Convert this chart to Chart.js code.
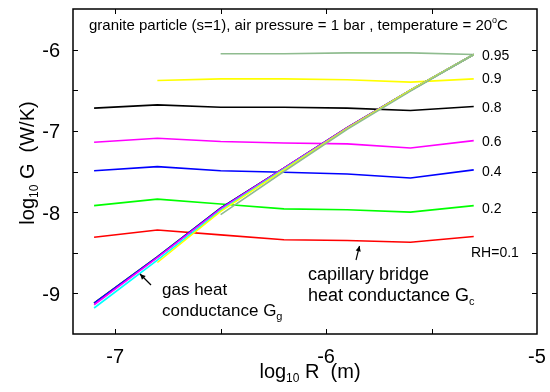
<!DOCTYPE html>
<html>
<head>
<meta charset="utf-8">
<script src="https://cdn.jsdelivr.net/npm/chart.js@4.4.0/dist/chart.umd.min.js"></script>
<style>
  html, body { margin: 0; padding: 0; background: #fff; }
  #wrap { width: 550px; height: 392px; }
</style>
</head>
<body>
<div id="wrap"><canvas id="chart" width="550" height="392"></canvas></div>
<script>
// log10 R (m) sample positions
const logR = [-7.1, -6.8, -6.5, -6.2, -5.9, -5.6, -5.3];

// capillary bridge heat conductance, log10 Gc (W/K)
const capRH01  = [-8.31, -8.22, -8.28, -8.34, -8.35, -8.37, -8.30];
const capRH02  = [-7.92, -7.84, -7.90, -7.96, -7.97, -8.00, -7.92];
const capRH04  = [-7.49, -7.44, -7.49, -7.51, -7.53, -7.58, -7.48];
const capRH06  = [-7.14, -7.09, -7.13, -7.15, -7.16, -7.21, -7.12];
const capRH08  = [-6.72, -6.68, -6.71, -6.71, -6.72, -6.75, -6.70];
const capRH09  = [null, -6.38, -6.36, -6.36, -6.37, -6.40, -6.36];
const capRH095 = [null, null, -6.05, -6.05, -6.04, -6.04, -6.06];

// gas heat conductance, log10 Gg (W/K)
const gasRH01  = [-9.12, -8.55, -7.95, -7.46, -6.96, -6.50, -6.06];
const gasRH02  = [-9.12, -8.55, -7.95, -7.46, -6.96, -6.50, -6.06];
const gasRH04  = [-9.12, -8.55, -7.95, -7.46, -6.96, -6.50, -6.06];
const gasRH06  = [-9.14, -8.56, -7.96, -7.46, -6.96, -6.50, -6.06];
const gasRH08  = [-9.18, -8.59, -7.98, -7.47, -6.97, -6.50, -6.06];
const gasRH09  = [null, -8.62, -7.99, -7.48, -6.97, -6.50, -6.06];
const gasRH095 = [null, null, -8.03, -7.50, -6.98, -6.51, -6.06];

const rhLabels = ['0.95', '0.9', '0.8', '0.6', '0.4', '0.2', 'RH=0.1'];
const xTicks = [-7, -6.5, -6, -5.5];
const yTicks = [-9, -8.5, -8, -7.5, -7, -6.5, -6];
const xTickLabels = [-7, -6, -5];
const yTickLabels = [-9, -8, -7, -6];

const FONT = '"Liberation Sans", Arial, Helvetica, sans-serif';

function toPoints(ys) {
    return logR.map((x, i) => ys[i] == null ? null : { x: x, y: ys[i] }).filter(p => p);
}

function line(label, ys, color, order) {
    return {
        label: label,
        data: toPoints(ys),
        borderColor: color,
        borderWidth: 1.6,
        pointRadius: 0,
        tension: 0,
        fill: false,
        order: order
    };
}

function drawRuns(ctx, x, y, parts, align) {
    let total = 0;
    parts.forEach(p => { ctx.font = p.size + 'px ' + FONT; total += ctx.measureText(p.t).width; });
    let cx = align === 'center' ? x - total / 2 : x;
    parts.forEach(p => {
        ctx.font = p.size + 'px ' + FONT;
        ctx.fillText(p.t, cx, y + (p.dy || 0));
        cx += ctx.measureText(p.t).width;
    });
}

function arrow(ctx, x1, y1, x2, y2) {
    ctx.beginPath();
    ctx.moveTo(x1, y1);
    ctx.lineTo(x2, y2);
    ctx.stroke();
    const a = Math.atan2(y2 - y1, x2 - x1);
    const len = 6, w = 0.45;
    ctx.beginPath();
    ctx.moveTo(x2, y2);
    ctx.lineTo(x2 - len * Math.cos(a - w), y2 - len * Math.sin(a - w));
    ctx.lineTo(x2 - len * Math.cos(a + w), y2 - len * Math.sin(a + w));
    ctx.closePath();
    ctx.fill();
}

const decorations = {
    id: 'decorations',
    afterDraw(chart) {
        const ctx = chart.ctx;
        const area = chart.chartArea;
        const xs = chart.scales.x, ys = chart.scales.y;
        ctx.save();
        ctx.strokeStyle = '#000';
        ctx.fillStyle = '#000';
        ctx.lineWidth = 1.5;
        ctx.strokeRect(area.left, area.top, area.right - area.left, area.bottom - area.top);

        // inward ticks on all four sides
        ctx.lineWidth = 1;
        ctx.beginPath();
        xTicks.forEach(v => {
            const px = Math.round(xs.getPixelForValue(v)) + 0.5;
            ctx.moveTo(px, area.bottom); ctx.lineTo(px, area.bottom - 5);
            ctx.moveTo(px, area.top); ctx.lineTo(px, area.top + 5);
        });
        yTicks.forEach(v => {
            const py = Math.round(ys.getPixelForValue(v)) + 0.5;
            ctx.moveTo(area.left, py); ctx.lineTo(area.left + 5, py);
            ctx.moveTo(area.right, py); ctx.lineTo(area.right - 5, py);
        });
        ctx.stroke();

        // tick labels
        ctx.font = '20px ' + FONT;
        ctx.textAlign = 'right';
        ctx.textBaseline = 'middle';
        yTickLabels.forEach(v => ctx.fillText(String(v), area.left - 13, ys.getPixelForValue(v) + 2));
        ctx.textAlign = 'center';
        ctx.textBaseline = 'alphabetic';
        xTickLabels.forEach(v => ctx.fillText(String(v), xs.getPixelForValue(v), area.bottom + 29));
        ctx.textAlign = 'left';

        // header text
        drawRuns(ctx, 89, 30, [
            { t: 'granite particle (s=1), air pressure = 1 bar , temperature = 20', size: 15 },
            { t: 'o', size: 9, dy: -7 },
            { t: 'C', size: 15 }
        ]);

        // RH labels at the right end of each capillary curve
        ctx.font = '14px ' + FONT;
        const lx = 482;
        ctx.fillText(rhLabels[0], lx, 60);
        ctx.fillText(rhLabels[1], lx, 83);
        ctx.fillText(rhLabels[2], lx, 112);
        ctx.fillText(rhLabels[3], lx, 146);
        ctx.fillText(rhLabels[4], lx, 176);
        ctx.fillText(rhLabels[5], lx, 213);
        ctx.fillText(rhLabels[6], 471, 257);

        // annotations
        drawRuns(ctx, 162, 295, [{ t: 'gas heat', size: 17 }]);
        drawRuns(ctx, 162, 316, [{ t: 'conductance G', size: 17 }, { t: 'g', size: 11, dy: 4 }]);
        drawRuns(ctx, 308, 280, [{ t: 'capillary bridge', size: 18 }]);
        drawRuns(ctx, 308, 301, [{ t: 'heat conductance G', size: 18 }, { t: 'c', size: 11, dy: 4 }]);
        ctx.lineWidth = 1.2;
        arrow(ctx, 151, 285, 140, 274);
        arrow(ctx, 356, 260, 359.5, 246);

        // axis titles
        drawRuns(ctx, 310, 378, [
            { t: 'log', size: 20 }, { t: '10', size: 12, dy: 4 }, { t: ' R  (m)', size: 20 }
        ], 'center');
        ctx.translate(34, 163);
        ctx.rotate(-Math.PI / 2);
        drawRuns(ctx, 0, 0, [
            { t: 'log', size: 20 }, { t: '10', size: 12, dy: 4 }, { t: ' G  (W/K)', size: 20 }
        ], 'center');
        ctx.restore();
    }
};

new Chart(document.getElementById('chart'), {
    type: 'line',
    data: {
        datasets: [
            line('gas 0.95', gasRH095, '#8fbc8f', 0),
            line('gas 0.9', gasRH09, '#ffff00', 1),
            line('gas 0.8', gasRH08, '#00ffff', 2),
            line('gas 0.6', gasRH06, '#ff00ff', 3),
            line('gas 0.4', gasRH04, '#0000ff', 4),
            line('gas 0.2', gasRH02, '#00ff00', 5),
            line('gas 0.1', gasRH01, '#ff0000', 6),
            line('cap 0.95', capRH095, '#8fbc8f', 10),
            line('cap 0.9', capRH09, '#ffff00', 10),
            line('cap 0.8', capRH08, '#000000', 10),
            line('cap 0.6', capRH06, '#ff00ff', 10),
            line('cap 0.4', capRH04, '#0000ff', 10),
            line('cap 0.2', capRH02, '#00ff00', 10),
            line('cap 0.1', capRH01, '#ff0000', 10)
        ]
    },
    options: {
        responsive: false,
        animation: false,
        devicePixelRatio: 1,
        layout: { padding: { top: 9, right: 13, left: 0, bottom: 0 } },
        plugins: {
            legend: { display: false },
            tooltip: { enabled: false }
        },
        scales: {
            x: {
                type: 'linear',
                min: -7.2,
                max: -5,
                grid: { display: false, drawTicks: false },
                border: { display: false },
                ticks: { display: false },
                afterFit: s => { s.height = 58; }
            },
            y: {
                type: 'linear',
                min: -9.5,
                max: -5.5,
                grid: { display: false, drawTicks: false },
                border: { display: false },
                ticks: { display: false },
                afterFit: s => { s.width = 73; }
            }
        }
    },
    plugins: [decorations]
});
</script>
</body>
</html>
